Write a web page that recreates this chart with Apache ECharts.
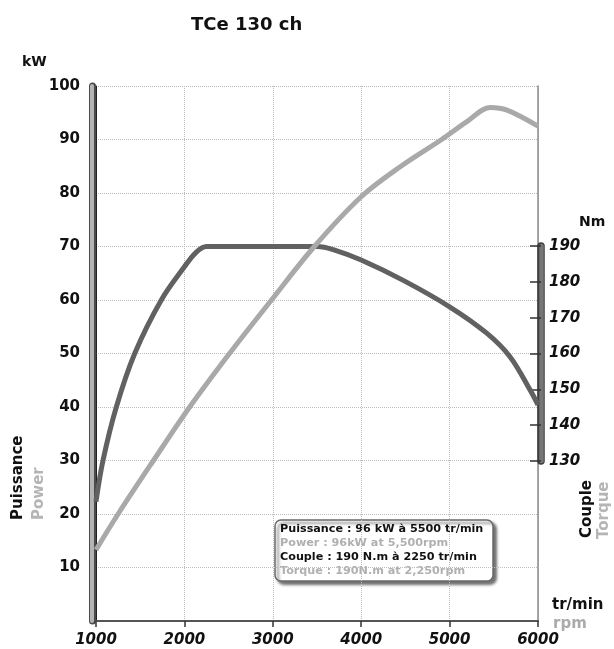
<!DOCTYPE html>
<html>
<head>
<meta charset="utf-8">
<script src="https://cdn.jsdelivr.net/npm/echarts@6/dist/echarts.min.js"></script>
<style>
  html, body { margin: 0; padding: 0; background: #fff; }
  #chart { width: 614px; height: 649px; }
</style>
</head>
<body>
<div id="chart"></div>
<script>
// Engine speed (tr/min) and output curves of the TCe 130 engine
const rpmTicks = [1000, 2000, 3000, 4000, 5000, 6000];
const kwTicks = [10, 20, 30, 40, 50, 60, 70, 80, 90, 100];
const nmTicks = [130, 140, 150, 160, 170, 180, 190];

const powerRpm = [1000, 1250, 1650, 2060, 2510, 2985, 3470, 4000, 4450, 4910, 5200, 5460, 5650, 6000];
const powerKw  = [13.3, 20, 30, 40, 50, 60, 70, 79.3, 85, 90, 93.4, 96, 95.5, 92.5];

const torqueRpm = [1000, 1079, 1230, 1438, 1739, 2000, 2130, 2250, 3500, 3700, 4000, 4476, 5000, 5420, 5683, 5910, 6000];
const torqueNm  = [118.5, 130, 145, 160, 175, 184.3, 188.3, 190, 190, 189, 186.2, 180.5, 173.1, 165.7, 159.1, 149.8, 145.6];

const legendLines = [
  { text: 'Puissance : 96 kW à 5500 tr/min', color: '#111' },
  { text: 'Power : 96kW at 5,500rpm', color: '#b0b0b0' },
  { text: 'Couple : 190 N.m à 2250 tr/min', color: '#111' },
  { text: 'Torque : 190N.m at 2,250rpm', color: '#b0b0b0' }
];

const FONT = 'DejaVu Sans';
const zip = (xs, ys) => xs.map((x, i) => [x, ys[i]]);

const chart = echarts.init(document.getElementById('chart'));

const plainText = (x, y, text, color, size, extra) => Object.assign({
  type: 'text', x: x, y: y, silent: true,
  style: { text: text, fill: color, font: 'bold ' + size + 'px "' + FONT + '"', textVerticalAlign: 'middle' }
}, extra || {});

const legendGraphics = [{
  type: 'rect', x: 275, y: 520, silent: true,
  shape: { width: 218, height: 61, r: 6 },
  style: { fill: '#fff', stroke: '#6a6a6a', lineWidth: 1.5,
           shadowBlur: 3, shadowOffsetX: 3, shadowOffsetY: 3, shadowColor: 'rgba(0,0,0,0.55)' }
}].concat(legendLines.map((l, i) => ({
  type: 'text', x: 280, y: 529 + i * 14, silent: true,
  style: { text: l.text, fill: l.color, font: 'bold 11.2px "' + FONT + '"', textVerticalAlign: 'middle' }
})));

const option = {
  animation: false,
  backgroundColor: '#fff',
  title: {
    text: 'TCe 130 ch', left: 186, top: 11,
    textStyle: { fontFamily: FONT, fontWeight: 'bold', fontSize: 18, color: '#111' }
  },
  grid: [
    { left: 96, right: 76, top: 86, bottom: 28 },
    { left: 96, right: 76, top: 246, bottom: 188 }
  ],
  xAxis: [
    {
      type: 'value', gridIndex: 0, min: 1000, max: 6000, interval: 1000,
      axisLine: { show: true, lineStyle: { color: '#555', width: 2 } },
      axisTick: { show: true, length: 6, lineStyle: { color: '#333', width: 1.5 } },
      axisLabel: {
        margin: 12, color: '#111', fontFamily: FONT, fontWeight: 'bold', fontStyle: 'italic', fontSize: 15,
        formatter: v => rpmTicks.includes(v) ? String(v) : ''
      },
      splitLine: { show: true, lineStyle: { color: '#bdbdbd', type: 'dotted', width: 1 } }
    },
    { type: 'value', gridIndex: 1, min: 1000, max: 6000, show: false }
  ],
  yAxis: [
    // 0: kW scale
    {
      type: 'value', gridIndex: 0, position: 'left', min: 0, max: 100, interval: 10,
      axisLine: { show: true, lineStyle: { color: '#222', width: 1 } },
      axisTick: { show: false },
      axisLabel: {
        margin: 16, color: '#111', fontFamily: FONT, fontWeight: 'bold', fontSize: 15,
        formatter: v => kwTicks.includes(v) ? String(v) : ''
      },
      splitLine: { show: true, lineStyle: { color: '#bdbdbd', type: 'dotted', width: 1 } }
    },
    // 1: torque data scale (Nm), aligned so 130 and 190 sit on 30 and 70 kW
    {
      type: 'value', gridIndex: 0, position: 'right', min: 85, max: 235, interval: 5,
      axisLine: { show: true, lineStyle: { color: '#8a8a8a', width: 1.5 } },
      axisTick: { show: false }, axisLabel: { show: false }, splitLine: { show: false }
    },
    // 2-3: kW bar (outline and fill)
    {
      type: 'value', gridIndex: 0, position: 'left', offset: 4, min: 0, max: 100,
      axisLine: { show: true, lineStyle: { color: '#4a4a4a', width: 7 } },
      axisTick: { show: false }, axisLabel: { show: false }, splitLine: { show: false }
    },
    {
      type: 'value', gridIndex: 0, position: 'left', offset: 4, min: 0, max: 100,
      axisLine: { show: true, lineStyle: { color: '#b4b4b4', width: 4 } },
      axisTick: { show: false }, axisLabel: { show: false }, splitLine: { show: false }
    },
    // 4-5: Nm bar with ticks and labels
    {
      type: 'value', gridIndex: 1, position: 'right', offset: 3, min: 130, max: 190, interval: 10,
      axisLine: { show: true, lineStyle: { color: '#3e3e3e', width: 7.5 } },
      axisTick: { show: false },
      axisLabel: {
        margin: 8, color: '#111', fontFamily: FONT, fontWeight: 'bold', fontStyle: 'italic', fontSize: 15,
        formatter: v => nmTicks.includes(v) ? String(v) : ''
      },
      splitLine: { show: false }
    },
    {
      type: 'value', gridIndex: 1, position: 'right', offset: 3, min: 130, max: 190, interval: 10,
      axisLine: { show: true, lineStyle: { color: '#767676', width: 4.5 } },
      axisTick: { show: true, inside: true, length: 11, lineStyle: { color: '#333', width: 1.5 } },
      axisLabel: { show: false }, splitLine: { show: false }
    }
  ],
  series: [
    {
      name: 'Couple', type: 'line', xAxisIndex: 0, yAxisIndex: 1,
      data: zip(torqueRpm, torqueNm), smooth: 0.35, showSymbol: false,
      lineStyle: { color: '#616161', width: 5 }, z: 3
    },
    {
      name: 'Puissance', type: 'line', xAxisIndex: 0, yAxisIndex: 0,
      data: zip(powerRpm, powerKw), smooth: 0.35, showSymbol: false,
      lineStyle: { color: '#a9a9a9', width: 5 }, z: 4
    }
  ],
  graphic: [
    plainText(22, 62, 'kW', '#111', 14),
    plainText(579, 222, 'Nm', '#111', 14),
    plainText(552, 605, 'tr/min', '#111', 15),
    plainText(553, 624, 'rpm', '#aaaaaa', 15),
    plainText(18.5, 520, 'Puissance', '#111', 15, { rotation: Math.PI / 2 }),
    plainText(39, 520, 'Power', '#b5b5b5', 15, { rotation: Math.PI / 2 }),
    plainText(587, 538, 'Couple', '#111', 15, { rotation: Math.PI / 2 }),
    plainText(604, 539, 'Torque', '#b5b5b5', 15, { rotation: Math.PI / 2 })
  ].concat(legendGraphics)
};

chart.setOption(option);
</script>
</body>
</html>
